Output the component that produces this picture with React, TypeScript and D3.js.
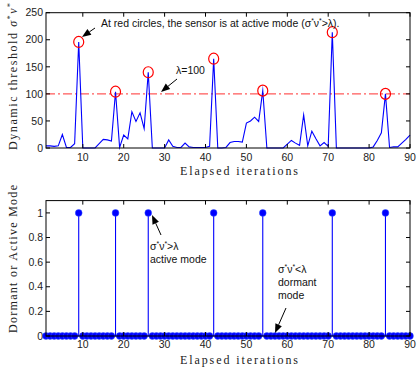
import React from "react";
import * as d3 from "d3";

// elapsed iterations 1..90
const iterations = d3.range(1, 91);

// dynamic threshold sigma*nu* per iteration
const threshold = [
  4, 4, 3, 4, 25, 1, 1, 8, 196, 0,
  0, 0, 0, 8, 16, 15, 13, 104, 1, 24,
  17, 67, 49, 65, 36, 140, 0, 0, 0, 0,
  15, 3, 1, 1, 9, 2, 1, 1, 1, 1,
  3, 165, 0, 0, 1, 10, 12, 12, 11, 46,
  50, 57, 49, 106, 0, 0, 0, 0, 0, 7,
  14, 9, 5, 61, 4, 31, 17, 4, 10, 3,
  214, 0, 0, 0, 0, 0, 0, 0, 0, 0,
  2, 14, 28, 100, 1, 2, 2, 9, 16, 24,
];

// dormant (0) / active (1) mode per iteration
const mode = [
  0, 0, 0, 0, 0, 0, 0, 0, 1, 0,
  0, 0, 0, 0, 0, 0, 0, 1, 0, 0,
  0, 0, 0, 0, 0, 1, 0, 0, 0, 0,
  0, 0, 0, 0, 0, 0, 0, 0, 0, 0,
  0, 1, 0, 0, 0, 0, 0, 0, 0, 0,
  0, 0, 0, 1, 0, 0, 0, 0, 0, 0,
  0, 0, 0, 0, 0, 0, 0, 0, 0, 0,
  1, 0, 0, 0, 0, 0, 0, 0, 0, 0,
  0, 0, 0, 1, 0, 0, 0, 0, 0, 0,
];

const lambda = 100;
const xTicks = [10, 20, 30, 40, 50, 60, 70, 80, 90];
const topYTicks = [0, 50, 100, 150, 200, 250];
const botYTicks = [0, 0.2, 0.4, 0.6, 0.8, 1];

const sans = "'Liberation Sans', Arial, sans-serif";
const serif = "'Liberation Serif', 'DejaVu Serif', serif";
const blue = "#0000ff";

function Arrow({ x1, y1, x2, y2 }: { x1: number; y1: number; x2: number; y2: number }) {
  const a = Math.atan2(y2 - y1, x2 - x1);
  const L = 9, W = 3.5;
  const bx = x2 - L * Math.cos(a), by = y2 - L * Math.sin(a);
  const p = [
    [x2, y2],
    [bx + W * Math.sin(a), by - W * Math.cos(a)],
    [bx - W * Math.sin(a), by + W * Math.cos(a)],
  ];
  return (
    <g>
      <line x1={x1} y1={y1} x2={bx} y2={by} stroke="#000" strokeWidth={1} />
      <polygon points={p.map((d) => d.join(",")).join(" ")} fill="#000" />
    </g>
  );
}

function Frame({ x, y, xt, yt, yfmt, left, right, top, bottom, xLabelY }: any) {
  return (
    <g>
      <rect x={left} y={top} width={right - left} height={bottom - top} fill="none" stroke="#000" strokeWidth={1} />
      {xt.map((t: number) => (
        <g key={"x" + t}>
          <line x1={x(t)} x2={x(t)} y1={bottom} y2={bottom - 4} stroke="#000" />
          <line x1={x(t)} x2={x(t)} y1={top} y2={top + 4} stroke="#000" />
          <text x={x(t)} y={xLabelY} textAnchor="middle" fontFamily={sans} fontSize={10.5} fill="#222">{t}</text>
        </g>
      ))}
      {yt.map((t: number) => (
        <g key={"y" + t}>
          <line x1={left} x2={left + 4} y1={y(t)} y2={y(t)} stroke="#000" />
          <line x1={right} x2={right - 4} y1={y(t)} y2={y(t)} stroke="#000" />
          <text x={left - 3} y={y(t) + 3.7} textAnchor="end" fontFamily={sans} fontSize={10.5} fill="#222">{yfmt(t)}</text>
        </g>
      ))}
    </g>
  );
}

function Sup({ children }: any) {
  return <tspan fontSize="0.65em" dy={-4}>{children}</tspan>;
}

export default function App() {
  const left = 46, right = 410;
  const x = d3.scaleLinear().domain([1, 90]).range([left, right]);
  const yTop = d3.scaleLinear().domain([0, 250]).range([148, 12.7]);
  const yBot = d3.scaleLinear().domain([0, 1.1]).range([336, 200.6]);

  const line = d3
    .line<number>()
    .x((_, i) => x(iterations[i]))
    .y((d) => yTop(d));

  const active = iterations.filter((_, i) => mode[i] === 1);

  return (
    <svg width={418} height={372} style={{ position: "absolute", left: 0, top: 0, background: "#fff" }}>
      {/* ---- top panel ---- */}
      <line x1={left} x2={right} y1={yTop(lambda)} y2={yTop(lambda)} stroke="#ff5a5a" strokeWidth={1.2} strokeDasharray="9,3,2,3" />
      <path d={line(threshold) || ""} fill="none" stroke={blue} strokeWidth={1.1} strokeLinejoin="miter" strokeMiterlimit={10} />
      {active.map((it) => (
        <ellipse key={it} cx={x(it)} cy={yTop(threshold[it - 1])} rx={5} ry={5.5} fill="none" stroke="#ff0000" strokeWidth={1.2} />
      ))}
      <Frame x={x} y={yTop} xt={xTicks} yt={topYTicks} yfmt={(d: number) => d} left={left} right={right} top={12.7} bottom={148} xLabelY={161} />
      <text x={101} y={27} fontFamily={sans} fontSize={10.5} fill="#111">
        At red circles, the sensor is at active mode (σ<Sup>*</Sup><tspan dy={4}>ν</tspan><Sup>*</Sup><tspan dy={4}>&gt;λ).</tspan>
      </text>
      <Arrow x1={95} y1={28} x2={82} y2={37} />
      <text x={176} y={74} fontFamily={sans} fontSize={10.5} fill="#111">λ=100</text>
      <Arrow x1={177} y1={79} x2={161} y2={92} />
      <text x={0} y={0} transform={`translate(17,${(148 + 5) / 2}) rotate(-90)`} textAnchor="middle" fontFamily={serif} fontSize={12} fill="#222" textLength={147} lengthAdjust="spacing">
        Dynamic threshold <tspan fontStyle="italic">σ</tspan><Sup>*</Sup><tspan dy={4} fontStyle="italic">ν</tspan><Sup>*</Sup>
      </text>
      <text x={180} y={175} fontFamily={serif} fontSize={12} fill="#222" textLength={118} lengthAdjust="spacing">Elapsed iterations</text>

      {/* ---- bottom panel ---- */}
      {iterations.map((it, i) =>
        mode[i] > 0 ? (
          <line key={"s" + it} x1={x(it)} x2={x(it)} y1={yBot(0)} y2={yBot(mode[i])} stroke={blue} strokeWidth={1.1} />
        ) : null
      )}
      <line x1={x(1)} x2={x(90)} y1={yBot(0)} y2={yBot(0)} stroke={blue} strokeWidth={1} />
      {iterations.map((it, i) => (
        <circle key={"m" + it} cx={x(it)} cy={yBot(mode[i])} r={3.4} fill={blue} stroke="#3355ff" strokeWidth={0.5} />
      ))}
      <Frame x={x} y={yBot} xt={xTicks} yt={botYTicks} yfmt={(d: number) => d} left={left} right={right} top={200.6} bottom={336} xLabelY={348} />
      <text x={150} y={250} fontFamily={sans} fontSize={10.5} fill="#111">
        σ<Sup>*</Sup><tspan dy={4}>ν</tspan><Sup>*</Sup><tspan dy={4}>&gt;λ</tspan>
      </text>
      <text x={150} y={263} fontFamily={sans} fontSize={10.5} fill="#111">active mode</text>
      <Arrow x1={161} y1={235} x2={152} y2={215} />
      <text x={278} y={273} fontFamily={sans} fontSize={10.5} fill="#111">
        σ<Sup>*</Sup><tspan dy={4}>ν</tspan><Sup>*</Sup><tspan dy={4}>&lt;λ</tspan>
      </text>
      <text x={278} y={286} fontFamily={sans} fontSize={10.5} fill="#111">dormant</text>
      <text x={278} y={299} fontFamily={sans} fontSize={10.5} fill="#111">mode</text>
      <Arrow x1={286} y1={308} x2={275} y2={333} />
      <text x={0} y={0} transform={`translate(17,${(333 + 185) / 2}) rotate(-90)`} textAnchor="middle" fontFamily={serif} fontSize={12} fill="#222" textLength={148} lengthAdjust="spacing">
        Dormant or Active Mode
      </text>
      <text x={180} y={364} fontFamily={serif} fontSize={12} fill="#222" textLength={118} lengthAdjust="spacing">Elapsed iterations</text>
    </svg>
  );
}
